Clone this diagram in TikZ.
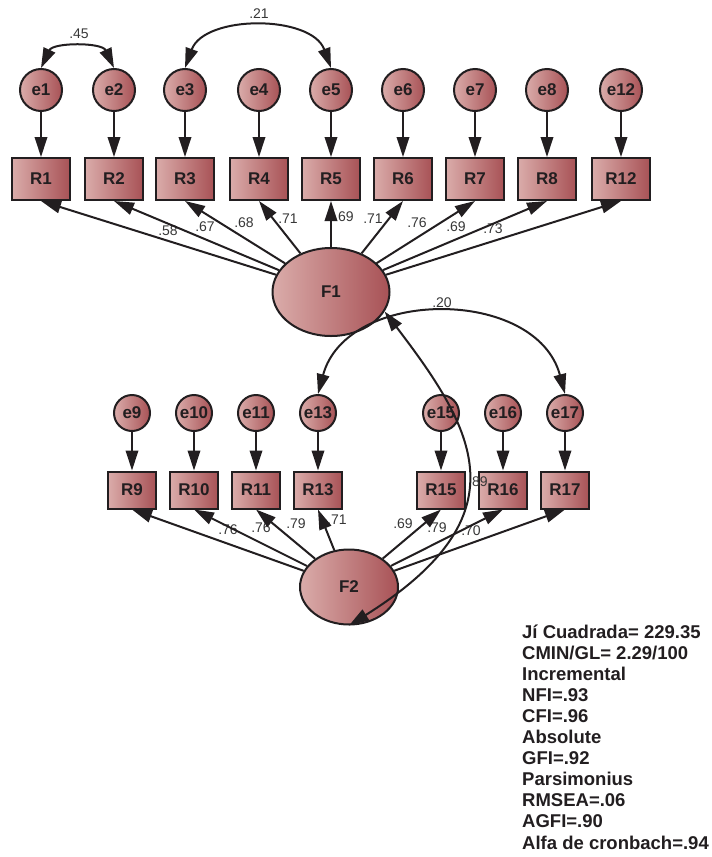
\documentclass[tikz,border=0pt]{standalone}
\usepackage{fontspec}
\setmainfont{Liberation Sans}
\usetikzlibrary{arrows.meta,shapes.geometric}
\definecolor{lightred}{RGB}{218,172,170}
\definecolor{darkred}{RGB}{168,82,86}
\definecolor{ink}{RGB}{34,30,32}
\definecolor{lbl}{RGB}{55,55,55}
\tikzset{
  errc/.style={circle, draw=ink, line width=2pt, left color=lightred, right color=darkred,
    minimum size=42pt, inner sep=0pt, text=ink, font=\fontsize{17}{20}\selectfont\bfseries},
  errs/.style={errc, minimum size=36pt},
  obsbox/.style={rectangle, draw=ink, line width=2pt, left color=lightred, right color=darkred,
    minimum width=58pt, minimum height=42pt, inner sep=0pt, text=ink, font=\fontsize{17}{20}\selectfont\bfseries},
  obss/.style={obsbox, minimum width=48pt, minimum height=37pt},
  latent/.style={ellipse, draw=ink, line width=2pt, left color=lightred, right color=darkred,
    inner sep=0pt, text=ink, font=\fontsize{17}{20}\selectfont\bfseries},
  arr/.style={draw=ink, line width=2pt, -{Triangle[length=20pt,width=12.5pt]}},
  dbl/.style={draw=ink, line width=2pt, {Triangle[length=20pt,width=12.5pt]}-{Triangle[length=20pt,width=12.5pt]}},
  lab/.style={text=lbl, inner sep=0pt, font=\fontsize{14}{16}\selectfont},
  stat/.style={text=ink, inner sep=0pt, anchor=base west, font=\fontsize{18.5}{21}\selectfont\bfseries},
}
\begin{document}
\begin{tikzpicture}[x=1pt,y=1pt]
\useasboundingbox (0,0) rectangle (712,-857);

% top row
\foreach \n/\x in {1/41,2/114,3/185,4/259,5/331,6/403,7/475,8/547,12/621}{
  \node[errc] (e\n) at (\x,-90) {e\n};
  \node[obsbox] (R\n) at (\x,-179) {R\n};
}
\node[latent, minimum width=117pt, minimum height=88pt] (F1) at (331,-292) {F1};

% second row
\foreach \n/\x in {9/132,10/194,11/256,13/318,15/441,16/503,17/565}{
  \node[errs] (e\n) at (\x,-413) {e\n};
  \node[obss] (R\n) at (\x,-490) {R\n};
}
\node[latent, minimum width=98pt, minimum height=75pt] (F2) at (349,-587) {F2};

% labels
\node[lab] (l1) at (168,-231) {.58};
\node[lab] (l2) at (205,-227) {.67};
\node[lab] (l3) at (244,-223) {.68};
\node[lab] (l4) at (288,-219) {.71};
\node[lab] (l5) at (344,-217) {.69};
\node[lab] (l6) at (373,-219) {.71};
\node[lab] (l7) at (417,-223) {.76};
\node[lab] (l8) at (456,-227) {.69};
\node[lab] (l9) at (493,-229) {.73};
\node[lab] (m1) at (228,-530) {.76};
\node[lab] (m2) at (261,-528) {.76};
\node[lab] (m3) at (296,-524) {.79};
\node[lab] (m4) at (337,-520) {.71};
\node[lab] (m5) at (403,-524) {.69};
\node[lab] (m6) at (437,-528) {.79};
\node[lab] (m7) at (471,-531) {.70};
\node[lab] (c89) at (478,-482) {.89};
\node[lab] (c45) at (79,-34) {.45};
\node[lab] (c21) at (259,-14) {.21};
\node[lab] (c20) at (442,-303) {.20};

% error arrows
\foreach \n in {1,2,3,4,5,6,7,8,12,9,10,11,13,15,16,17}{
  \draw[arr] (e\n) -- (R\n);
}
% loadings
\foreach \n in {1,2,3,4,5,6,7,8,12}{
  \draw[arr] (F1) -- (R\n.south);
}
\foreach \n in {9,10,11,13,15,16,17}{
  \draw[arr] (F2) -- (R\n.south);
}

% correlations
\draw[dbl] (e1.north) to[out=65,in=115] (e2.north);
\draw[dbl] (e3.north) to[out=70,in=110] (e5.north);
\draw[dbl] (e13.north) to[out=75,in=105,looseness=1.15] (e17.north);
\draw[dbl] (F2.south) .. controls (525,-515) and (475,-430) .. (F1.-20);

% fit statistics
\foreach \t [count=\i] in {J\'{\i} Cuadrada= 229.35, CMIN/GL= 2.29/100, Incremental, NFI=.93, CFI=.96, Absolute, GFI=.92, Parsimonius, RMSEA=.06, AGFI=.90, Alfa de cronbach=.94}{
  \node[stat] (t\i) at (522,{-638-21.1*(\i-1)}) {\t};
}
\end{tikzpicture}
\end{document}
